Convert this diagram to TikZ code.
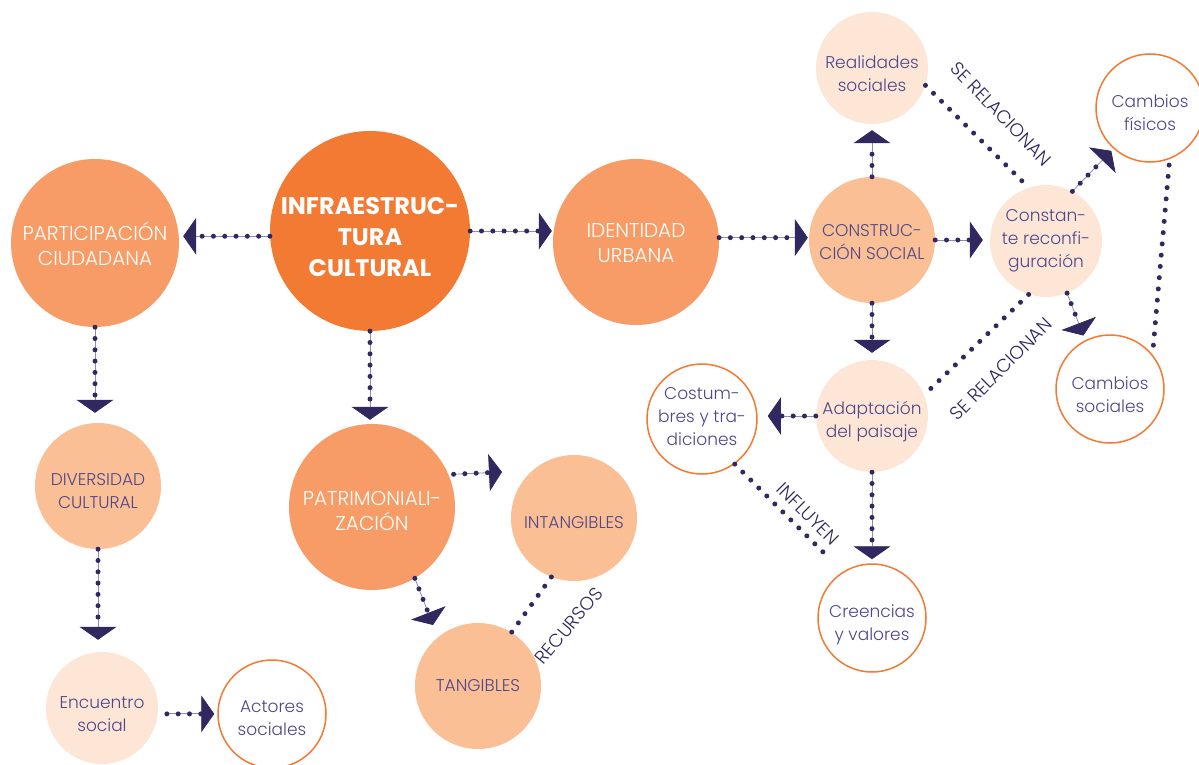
\documentclass[tikz,border=0pt]{standalone}
\usepackage{fontspec}
\setmainfont{Poppins}
\IfFontExistsTF{Poppins Light}{\newfontfamily\lightfont{Poppins Light}}{\newfontfamily\lightfont{Poppins}}
\usetikzlibrary{arrows.meta,calc}
\definecolor{cInfra}{HTML}{F27A33}
\definecolor{cMid}{HTML}{F79C66}
\definecolor{cPeach}{HTML}{FBBF95}
\definecolor{cLight}{HTML}{FDE6D6}
\definecolor{txt}{HTML}{4F478A}
\definecolor{dk}{HTML}{30285F}
\definecolor{lav}{HTML}{8F89B8}
\tikzset{
  bub/.style={circle, inner sep=0pt},
  cinf/.style={bub, fill=cInfra},
  cmid/.style={bub, fill=cMid},
  cpch/.style={bub, fill=cPeach},
  clgt/.style={bub, fill=cLight},
  cout/.style={bub, fill=white, draw=cInfra, line width=1.5pt},
  tb/.style={inner sep=0pt, align=center, text=white, font=\bfseries\fontsize{24}{31}\selectfont},
  tw/.style={inner sep=0pt, align=center, text=white, font=\lightfont\fontsize{20}{25}\selectfont},
  tp/.style={inner sep=0pt, align=center, text=txt, font=\lightfont\fontsize{17}{23}\selectfont},
  thinl/.style={draw=lav, line width=0.8pt},
  dotl/.style={draw=dk, line width=5pt, line cap=round, dash pattern=on 0pt off 11.3pt},
  lbl/.style={text=dk, inner sep=0pt, font=\lightfont\fontsize{18.5}{20}\selectfont},
}
% shape style, text style, name, position, diameter, vertical text shift, text
\newcommand\bub[7]{%
  \node[#1, minimum size=#5] (#3) at #4 {};
  \node[#2, yshift=#6] (#3-t) at (#3.center) {#7};}
\newcommand\conn[4]{%
  \draw[thinl, shorten <=#1, shorten >=#2, -{Triangle[length=13pt,width=37pt,color=dk]}] #3 -- #4;
  \draw[dotl, shorten <=#1, shorten >=#2+13pt] #3 -- #4;}
\begin{document}
\begin{tikzpicture}[x=1pt,y=-1pt]
\fill[white] (0,0) rectangle (1199,765);
\useasboundingbox (0,0) rectangle (1199,765);
% nodes
\bub{cinf}{tb}{infra}{(370,231)}{200pt}{-6pt}{INFRAESTRUC-\\TURA\\CULTURAL}
\bub{cmid}{tw}{part}{(95,243)}{168pt}{-1pt}{PARTICIPACIÓN\\CIUDADANA}
\bub{cmid}{tw}{iden}{(636,242)}{166pt}{-1pt}{IDENTIDAD\\URBANA}
\bub{cmid}{tw}{patri}{(372,507)}{166pt}{-4pt}{PATRIMONIALI-\\ZACIÓN}
\bub{cpch}{tp}{cons}{(872,240)}{126pt}{-2pt}{CONSTRUC-\\CIÓN SOCIAL}
\bub{clgt}{tp}{const}{(1046,241)}{112pt}{0pt}{Constan-\\te reconfi-\\guración}
\bub{clgt}{tp}{real}{(872,68)}{112pt}{-6pt}{Realidades\\sociales}
\bub{cout}{tp}{cfis}{(1150,108)}{108pt}{-5pt}{Cambios\\físicos}
\bub{cout}{tp}{csoc}{(1110,389)}{108pt}{-6pt}{Cambios\\sociales}
\bub{clgt}{tp}{adapt}{(872,416)}{112pt}{-6pt}{Adaptación\\del paisaje}
\bub{cout}{tp}{cost}{(702,419)}{110pt}{2pt}{Costum-\\bres y tra-\\diciones}
\bub{cout}{tp}{cree}{(872,618)}{108pt}{-7pt}{Creencias\\y valores}
\bub{cpch}{tp}{inta}{(574,518)}{126pt}{-5pt}{INTANGIBLES}
\bub{cpch}{tp}{tang}{(478,686)}{126pt}{0pt}{TANGIBLES}
\bub{cpch}{tp}{div}{(98,486)}{126pt}{-5pt}{DIVERSIDAD\\CULTURAL}
\bub{clgt}{tp}{enc}{(102,708)}{112pt}{-6pt}{Encuentro\\social}
\bub{cout}{tp}{act}{(272,714)}{108pt}{-4pt}{Actores\\sociales}
% free ends
\coordinate (pR) at (502,472);
\coordinate (pT) at (433,625);
\coordinate (infEnd) at (823,552);
% arrowed connectors
\conn{0pt}{4pt}{(infra.183)}{(infra.183 -| part.east)}
\conn{0pt}{1pt}{(infra.east)}{(infra.east -| iden.west)}
\conn{0pt}{4pt}{(infra.south)}{(infra.south |- patri.north)}
\conn{0pt}{10pt}{(part.south)}{(part.south |- div.north)}
\conn{0pt}{12pt}{(div.south)}{(div.south |- enc.north)}
\conn{9pt}{3pt}{(enc.-6)}{(enc.-6 -| act.west)}
\conn{0pt}{1pt}{(iden.3)}{(iden.3 -| cons.west)}
\conn{0pt}{7pt}{(cons.east)}{(cons.east -| const.west)}
\conn{0pt}{6pt}{(cons.north)}{(cons.north |- real.south)}
\conn{0pt}{7pt}{(cons.south)}{(cons.south |- adapt.north)}
\conn{0pt}{3pt}{(const.62)}{(cfis.228)}
\conn{0pt}{5pt}{(const.-68)}{(csoc.117)}
\conn{0pt}{10pt}{(adapt.west)}{(adapt.west -| cost.east)}
\conn{0pt}{4pt}{(adapt.south)}{(adapt.south |- cree.north)}
\conn{5pt}{0pt}{(patri.23)}{(pR)}
\conn{0pt}{0pt}{(patri.-59)}{(pT)}
% plain dotted links
\draw[dotl] (real.-18) -- (const.108);
\draw[dotl] (const.252) -- (adapt.22);
\draw[dotl, shorten <=6pt] (cfis.-69) -- (csoc.39);
\draw[dotl] (cost.-54) -- (infEnd);
\draw[dotl] (inta.249) -- (tang.58);
% labels
\node[lbl, rotate=-46] (l1) at (1001,114) {SE RELACIONAN};
\node[lbl, rotate=45] (l2) at (1001,369) {SE RELACIONAN};
\node[lbl, rotate=-45] (l3) at (808,514) {INFLUYEN};
\node[lbl, rotate=50] (l4) at (569,626) {RECURSOS};
\end{tikzpicture}
\end{document}
